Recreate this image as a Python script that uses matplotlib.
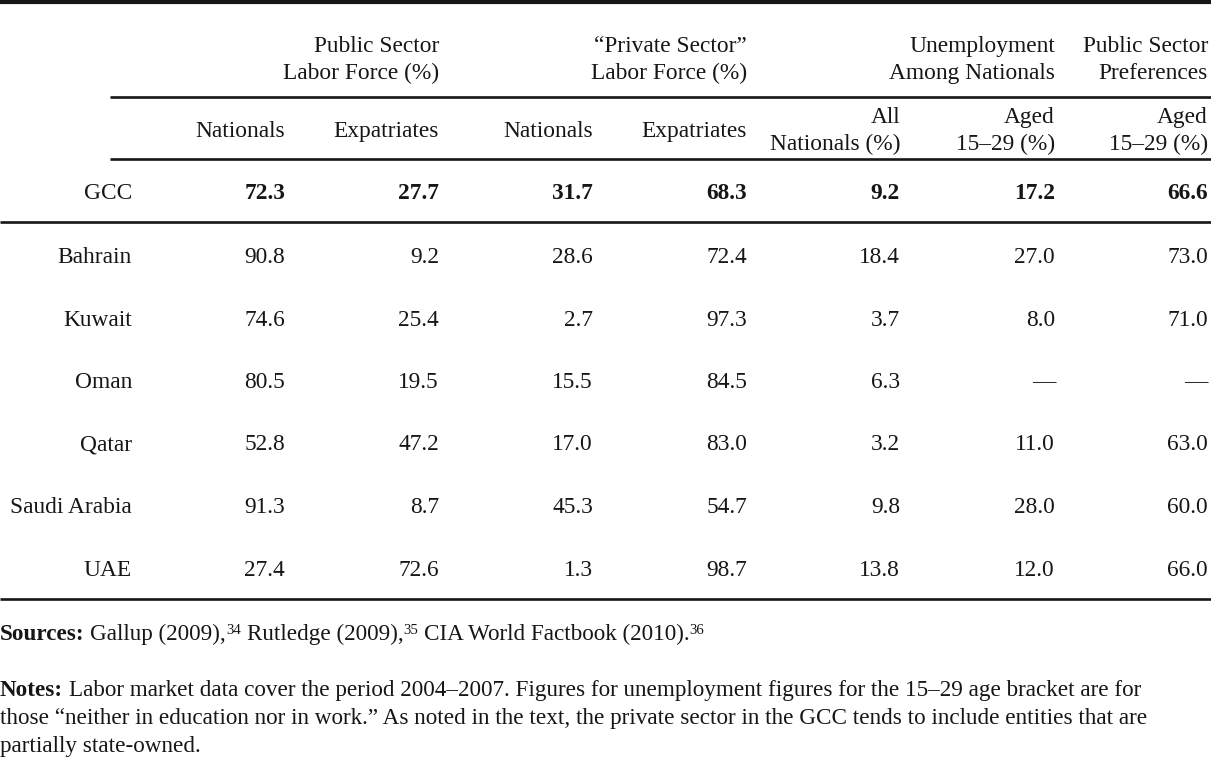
import matplotlib
matplotlib.use("Agg")
import matplotlib.pyplot as plt

plt.rcParams['font.family'] = ['Liberation Serif', 'DejaVu Serif']

# data
countries = ["Bahrain", "Kuwait", "Oman", "Qatar", "Saudi Arabia", "UAE"]
pub_nat = [90.8, 74.6, 80.5, 52.8, 91.3, 27.4]
pub_exp = [9.2, 25.4, 19.5, 47.2, 8.7, 72.6]
priv_nat = [28.6, 2.7, 15.5, 17.0, 45.3, 1.3]
priv_exp = [72.4, 97.3, 84.5, 83.0, 54.7, 98.7]
unemp_all = [18.4, 3.7, 6.3, 3.2, 9.8, 13.8]
unemp_young = [27.0, 8.0, None, 11.0, 28.0, 12.0]
pref_young = [73.0, 71.0, None, 63.0, 60.0, 66.0]
gcc = [72.3, 27.7, 31.7, 68.3, 9.2, 17.2, 66.6]

group_headers = [("Public Sector", "Labor Force (%)"),
                 ("\u201cPrivate Sector\u201d", "Labor Force (%)"),
                 ("Unemployment", "Among Nationals"),
                 ("Public Sector", "Preferences")]
sub_headers = [("Nationals",), ("Expatriates",), ("Nationals",), ("Expatriates",),
               ("All", "Nationals (%)"), ("Aged", "15\u201329 (%)"), ("Aged", "15\u201329 (%)")]

W, H = 1211, 774
fig = plt.figure(figsize=(W / 100, H / 100), dpi=100)
ax = fig.add_axes([0, 0, 1, 1])
ax.set_xlim(0, W)
ax.set_ylim(H, 0)
ax.axis('off')
renderer = fig.canvas.get_renderer()

fs = 16.8
fs_note = 16.7
ink = '#161616'
label_x = 132
col_x = [285, 439, 593, 747, 900, 1055, 1208]


def put(x, y, s, ha='right', **kw):
    return ax.text(x, y, s, ha=ha, va='baseline', fontsize=kw.pop('fontsize', fs),
                   color=ink, **kw)


# rules
ax.plot([0, W], [2, 2], color=ink, lw=3.0, solid_capstyle='butt')
for y, x0 in [(97, 110), (159, 110), (222, 0), (599, 0)]:
    ax.plot([x0, W], [y, y], color=ink, lw=1.9, solid_capstyle='butt')

# header rows
group_right = [col_x[1], col_x[3], col_x[5], col_x[6]]
for x, lines in zip(group_right, group_headers):
    put(x, 52, lines[0])
    put(x, 79, lines[1])
for x, lines in zip(col_x, sub_headers):
    if len(lines) == 1:
        put(x, 137, lines[0])
    else:
        put(x, 123, lines[0])
        put(x, 150, lines[1])

# GCC row
put(label_x, 199, "GCC")
for x, v in zip(col_x, gcc):
    put(x, 199, f"{v:.1f}", fontweight='bold')

# country rows
row_y = [263, 325.5, 388, 450.5, 513, 575.5]
cols = [pub_nat, pub_exp, priv_nat, priv_exp, unemp_all, unemp_young, pref_young]
for i, (name, y) in enumerate(zip(countries, row_y)):
    put(label_x, y, name)
    for x, col in zip(col_x, cols):
        v = col[i]
        put(x, y, "\u2014" if v is None else f"{v:.1f}")


# footnotes: runs of (text, bold, superscript, space_before)
def width(t):
    return t.get_window_extent(renderer).width


probe1 = put(0, -50, "a a", ha='left', fontsize=fs_note)
probe2 = put(0, -50, "aa", ha='left', fontsize=fs_note)
space_w = width(probe1) - width(probe2)
probe1.remove()
probe2.remove()


def runs(x, y, parts):
    for s, bold, sup, gap in parts:
        if gap:
            x += space_w
        if sup:
            t = put(x, y - 6.5, s, ha='left', fontsize=fs_note * 0.64)
        else:
            t = put(x, y, s, ha='left', fontsize=fs_note,
                    fontweight='bold' if bold else 'normal')
        x += width(t)


runs(0, 640, [("Sources:", True, False, False),
              ("Gallup (2009),", False, False, True), ("34", False, True, False),
              ("Rutledge (2009),", False, False, True), ("35", False, True, False),
              ("CIA World Factbook (2010).", False, False, True), ("36", False, True, False)])
runs(0, 696, [("Notes:", True, False, False),
              ("Labor market data cover the period 2004\u20132007. Figures for unemployment "
               "figures for the 15\u201329 age bracket are for", False, False, True)])
put(0, 724, "those \u201cneither in education nor in work.\u201d As noted in the text, the private "
    "sector in the GCC tends to include entities that are", ha='left', fontsize=fs_note)
put(0, 752, "partially state-owned.", ha='left', fontsize=fs_note)

fig.savefig("out.png", dpi=100)
